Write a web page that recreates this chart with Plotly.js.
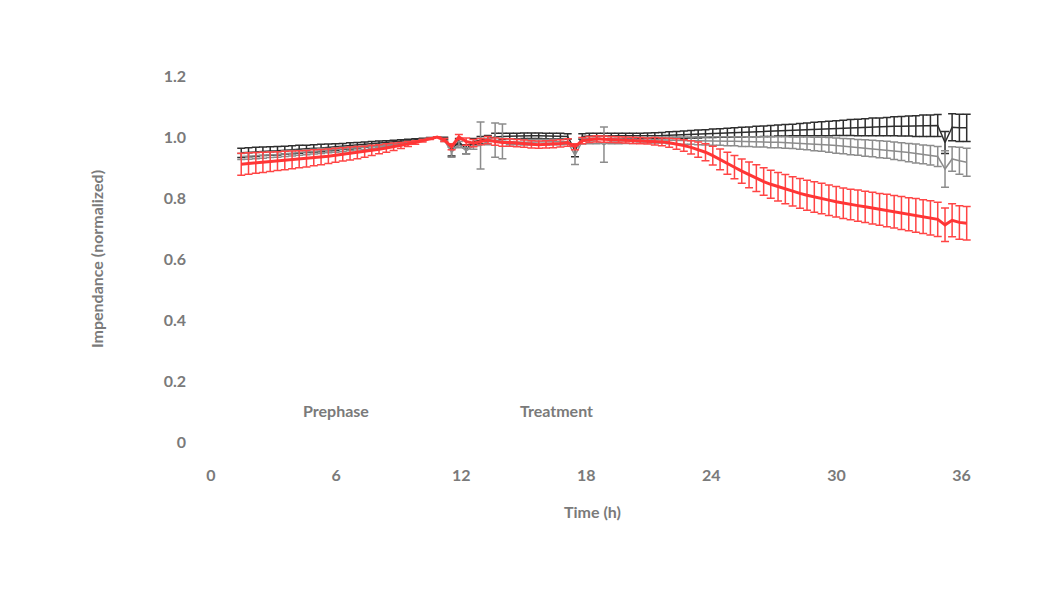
<!DOCTYPE html>
<html>
<head>
<meta charset="utf-8">
<script src="https://cdn.plot.ly/plotly-3.0.1.min.js"></script>
<style>html,body{margin:0;padding:0;background:#fff;}#chart{width:1064px;height:592px;}</style>
</head>
<body>
<div id="chart"></div>
<script>
// time (h)
var timeH = [1.45,1.80,2.15,2.49,2.84,3.19,3.54,3.89,4.23,4.58,4.93,5.28,5.63,5.97,6.32,6.67,7.02,7.37,7.71,8.06,8.41,8.76,9.11,9.45,9.80,10.15,10.50,10.85,11.19,11.54,11.89,12.24,12.59,12.93,13.28,13.63,13.98,14.33,14.67,15.02,15.37,15.72,16.07,16.41,16.76,17.11,17.46,17.81,18.15,18.50,18.85,19.20,19.55,19.89,20.24,20.59,20.94,21.29,21.63,21.98,22.33,22.68,23.03,23.37,23.72,24.07,24.42,24.77,25.11,25.46,25.81,26.16,26.51,26.85,27.20,27.55,27.90,28.25,28.59,28.94,29.29,29.64,29.99,30.33,30.68,31.03,31.38,31.73,32.07,32.42,32.77,33.12,33.47,33.81,34.16,34.51,34.86,35.21,35.55,35.90,36.25];

// dark series
var darkMean = [0.948,0.950,0.951,0.953,0.954,0.955,0.957,0.958,0.960,0.961,0.963,0.964,0.966,0.967,0.969,0.971,0.973,0.975,0.977,0.979,0.981,0.983,0.985,0.988,0.990,0.993,0.996,1.000,
0.995,0.958,0.985,0.960,0.985,0.990,0.995,1.000,1.002,
1.003,1.003,1.004,1.004,1.004,1.003,1.003,1.003,1.002,
0.955,
1.002,1.003,1.003,1.003,1.003,1.003,1.003,1.003,1.003,1.004,
1.004,1.005,1.006,1.007,1.008,1.009,1.010,1.011,1.012,1.013,1.014,1.015,1.016,1.017,1.018,1.019,1.020,1.021,1.022,1.023,1.024,1.025,1.026,1.027,1.028,1.029,1.030,1.031,1.031,1.032,1.033,1.033,1.034,1.035,1.035,1.036,1.036,1.037,1.037,1.038,0.982,1.032,1.030,1.030];
var darkErr = [0.015,0.015,0.015,0.014,0.014,0.014,0.013,0.013,0.013,0.012,0.012,0.012,0.011,0.011,0.010,0.010,0.009,0.009,0.008,0.008,0.007,0.006,0.006,0.005,0.004,0.003,0.002,0.000,
0.004,0.020,0.010,0.015,0.010,0.012,0.010,0.012,0.010,
0.009,0.009,0.009,0.009,0.009,0.009,0.009,0.009,0.009,
0.020,
0.009,0.009,0.009,0.009,0.009,0.009,0.009,0.009,0.009,0.009,
0.010,0.010,0.011,0.011,0.012,0.012,0.013,0.013,0.014,0.014,0.015,0.015,0.016,0.016,0.017,0.017,0.018,0.018,0.019,0.019,0.020,0.021,0.022,0.023,0.024,0.024,0.025,0.026,0.027,0.028,0.029,0.029,0.030,0.031,0.032,0.033,0.034,0.035,0.035,0.036,0.036,0.044,0.045,0.045];

// grey series
var greyMean = [0.936,0.937,0.939,0.940,0.942,0.943,0.945,0.947,0.948,0.950,0.952,0.954,0.955,0.957,0.959,0.961,0.963,0.965,0.967,0.970,0.972,0.975,0.978,0.982,0.986,0.990,0.995,1.000,
0.990,0.950,0.975,0.955,0.970,0.972,0.985,0.990,0.986,
0.984,0.984,0.983,0.983,0.983,0.983,0.984,0.984,0.985,
0.940,
0.986,0.987,0.987,0.975,0.987,0.987,0.988,0.988,0.989,0.989,
0.990,0.990,0.989,0.989,0.988,0.988,0.988,0.987,0.987,0.987,0.986,0.986,0.985,0.985,0.984,0.984,0.983,0.983,0.982,0.981,0.980,0.979,0.977,0.976,0.974,0.972,0.970,0.968,0.966,0.964,0.962,0.960,0.958,0.955,0.952,0.949,0.946,0.943,0.940,0.936,0.895,0.928,0.922,0.917];
var greyErr = [0.010,0.010,0.010,0.010,0.009,0.009,0.009,0.009,0.008,0.008,0.008,0.008,0.007,0.007,0.007,0.006,0.006,0.006,0.005,0.005,0.004,0.004,0.003,0.003,0.002,0.002,0.001,0.000,
0.005,0.016,0.010,0.010,0.010,0.077,0.010,0.056,0.057,
0.009,0.009,0.009,0.009,0.009,0.009,0.009,0.009,0.009,
0.030,
0.009,0.009,0.009,0.058,0.009,0.009,0.009,0.009,0.009,0.009,
0.010,0.010,0.011,0.011,0.012,0.012,0.013,0.013,0.014,0.014,0.015,0.015,0.016,0.016,0.017,0.017,0.018,0.018,0.019,0.019,0.020,0.021,0.022,0.023,0.024,0.025,0.025,0.026,0.026,0.027,0.027,0.028,0.028,0.029,0.029,0.030,0.031,0.031,0.032,0.033,0.060,0.040,0.044,0.046];

// red series
var redMean = [0.911,0.913,0.915,0.917,0.919,0.921,0.923,0.925,0.927,0.929,0.932,0.934,0.937,0.940,0.943,0.946,0.949,0.952,0.956,0.960,0.964,0.968,0.972,0.977,0.982,0.988,0.994,1.000,
0.990,0.968,1.000,0.985,0.980,0.985,0.990,0.985,0.982,
0.982,0.980,0.978,0.976,0.975,0.976,0.977,0.979,0.982,
0.968,
0.988,0.992,0.994,0.993,0.992,0.991,0.990,0.989,0.988,0.987,
0.986,0.984,0.981,0.977,0.972,0.966,0.959,0.950,0.939,0.927,0.914,0.901,0.888,0.876,0.865,0.854,0.845,0.837,0.829,0.822,0.815,0.809,0.803,0.798,0.793,0.788,0.783,0.779,0.775,0.771,0.767,0.763,0.759,0.755,0.751,0.747,0.743,0.739,0.735,0.730,0.712,0.727,0.720,0.717];
var redErr = [0.036,0.035,0.034,0.033,0.032,0.031,0.030,0.029,0.028,0.027,0.026,0.025,0.024,0.023,0.022,0.021,0.020,0.018,0.017,0.015,0.014,0.012,0.010,0.008,0.006,0.004,0.002,0.000,
0.005,0.010,0.008,0.012,0.012,0.010,0.012,0.012,0.012,
0.012,0.012,0.012,0.012,0.012,0.012,0.012,0.012,0.012,
0.010,
0.010,0.010,0.010,0.010,0.010,0.010,0.010,0.010,0.010,0.010,
0.012,0.013,0.015,0.017,0.019,0.022,0.025,0.028,0.031,0.034,0.036,0.038,0.040,0.042,0.044,0.045,0.046,0.047,0.048,0.048,0.049,0.049,0.050,0.050,0.050,0.050,0.050,0.050,0.051,0.051,0.052,0.052,0.053,0.053,0.054,0.054,0.055,0.055,0.056,0.056,0.055,0.054,0.055,0.055];

var xTicks = [0, 6, 12, 18, 24, 30, 36];
var yTicks = [0, 0.2, 0.4, 0.6, 0.8, 1.0, 1.2];
var yTickText = ['0', '0.2', '0.4', '0.6', '0.8', '1.0', '1.2'];

var textColor = '#7a7a7a';
var fontFam = 'Lato, "Open Sans", sans-serif';

function series(y, err, color, lw, ecolor) {
  return {
    x: timeH, y: y, type: 'scatter', mode: 'lines',
    line: {color: color, width: lw},
    error_y: {type: 'data', array: err, visible: true, color: ecolor, thickness: 1.5, width: 4},
    hoverinfo: 'x+y', showlegend: false
  };
}

var data = [
  series(darkMean, darkErr, '#2e2e2e', 1.5, '#2e2e2e'),
  series(greyMean, greyErr, '#8c8c8c', 1.5, '#8c8c8c'),
  series(redMean, redErr, '#ff3535', 3, '#ff4444')
];

var layout = {
  width: 1064, height: 592,
  margin: {l: 211, r: 90, t: 76, b: 150},
  paper_bgcolor: '#ffffff', plot_bgcolor: '#ffffff',
  font: {family: fontFam, color: textColor, size: 16, weight: 'bold'},
  xaxis: {
    range: [0, 36.6], tickvals: xTicks, ticktext: xTicks.map(String),
    showgrid: false, zeroline: false, showline: false, ticks: '',
    ticklabelstandoff: 22,
    tickfont: {family: fontFam, size: 16, color: textColor, weight: 'bold'},
    title: {text: 'Time (h)', standoff: 23, font: {family: fontFam, size: 16, color: textColor, weight: 'bold'}}
  },
  yaxis: {
    range: [0, 1.2], tickvals: yTicks, ticktext: yTickText,
    showgrid: false, zeroline: false, showline: false, ticks: '',
    ticklabelstandoff: 24,
    tickfont: {family: fontFam, size: 16, color: textColor, weight: 'bold'},
    title: {text: 'Impendance (normalized)', standoff: 56, font: {family: fontFam, size: 16, color: textColor, weight: 'bold'}}
  },
  annotations: [
    {x: 6, y: 0.104, xref: 'x', yref: 'y', text: 'Prephase', showarrow: false,
     font: {family: fontFam, size: 16, color: textColor, weight: 'bold'}},
    {x: 16.55, y: 0.104, xref: 'x', yref: 'y', text: 'Treatment', showarrow: false,
     font: {family: fontFam, size: 16, color: textColor, weight: 'bold'}}
  ]
};

Plotly.newPlot('chart', data, layout, {displayModeBar: false, staticPlot: true});
</script>
</body>
</html>
